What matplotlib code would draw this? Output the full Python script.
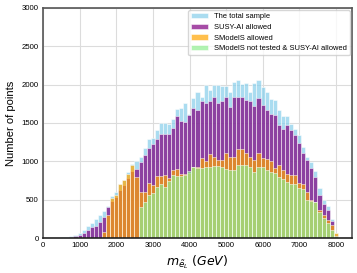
import numpy as np
import matplotlib
matplotlib.use("Agg")
import matplotlib.pyplot as plt

# counts per mass bin (bins of ~111 GeV starting at 500 GeV)
total_sample = [8, 15, 25, 40, 70, 110, 160, 200, 245, 300, 350, 420, 550, 600, 700, 760, 860, 960,
                1000, 1060, 1170, 1290, 1310, 1410, 1500, 1500, 1490, 1550, 1680, 1690, 1760, 1620,
                1830, 1900, 1840, 1995, 1930, 1995, 1990, 1980, 1980, 1910, 2030, 2060, 2010, 2020,
                1910, 2020, 2060, 1970, 1900, 1810, 1800, 1670, 1590, 1590, 1490, 1420, 1340, 1190,
                1060, 990, 880, 650, 500, 420, 250, 70]
susy_ai_allowed = [3, 6, 12, 25, 45, 65, 105, 150, 160, 215, 270, 400, 480, 540, 620, 690, 780, 870,
                   900, 990, 1082, 1169, 1226, 1291, 1356, 1356, 1356, 1430, 1595, 1530, 1508, 1604,
                   1691, 1669, 1791, 1765, 1791, 1834, 1756, 1791, 1834, 1704, 1834, 1834, 1834, 1800,
                   1786, 1726, 1821, 1734, 1669, 1613, 1604, 1474, 1417, 1474, 1408, 1343, 1235, 1104,
                   1017, 909, 800, 560, 440, 370, 220, 40]
smodels_allowed = [0, 0, 0, 0, 0, 0, 0, 0, 0, 0, 83, 300, 525, 560, 700, 760, 830, 950,
                   800, 600, 595, 713, 691, 809, 809, 822, 778, 887, 895, 830, 835, 843,
                   922, 922, 1039, 1008, 1091, 1052, 1017, 1017, 1113, 1052, 1052, 1156, 1156, 1104,
                   1061, 1017, 1104, 1039, 1026, 1008, 917, 952, 887, 835, 822, 822, 713, 704,
                   600, 496, 474, 370, 300, 240, 170, 60]
not_tested_susy_ai = [0, 0, 0, 0, 0, 0, 0, 0, 0, 0, 0, 0, 0, 0, 0, 0, 0, 0,
                      0, 400, 474, 561, 591, 661, 700, 669, 748, 822, 809, 809, 822, 870,
                      922, 908, 908, 922, 930, 939, 939, 930, 895, 887, 887, 950, 952, 952,
                      930, 865, 930, 930, 887, 865, 843, 800, 769, 735, 704, 704, 648, 635,
                      496, 487, 474, 340, 260, 190, 110, 30]

labels = ["The total sample", "SUSY-AI allowed", "SModelS allowed",
          "SModelS not tested & SUSY-AI allowed"]
x_ticks = [0, 1000, 2000, 3000, 4000, 5000, 6000, 7000, 8000]
y_ticks = [0, 500, 1000, 1500, 2000, 2500, 3000]

bin_start = 500.0
bin_width = 111.0
n = len(total_sample)
left_edges = bin_start + bin_width * np.arange(n)

plt.rcParams['font.family'] = ['Liberation Sans', 'DejaVu Sans']

fig = plt.figure(figsize=(3.57, 2.73), dpi=100)
ax = fig.add_axes([0.1204, 0.128, 0.865, 0.843])

series = [total_sample, susy_ai_allowed, smodels_allowed, not_tested_susy_ai]
colors = ['skyblue', 'purple', 'orange', 'lightgreen']
for vals, col, lab in zip(series, colors, labels):
    ax.bar(left_edges, vals, width=bin_width, align='edge', color=col, alpha=0.7,
           edgecolor='white', linewidth=0.5, label=lab)

ax.set_xlim(0, 8430)
ax.set_ylim(0, 3000)
ax.set_xticks(x_ticks)
ax.set_yticks(y_ticks)
ax.tick_params(axis='both', length=0, labelsize=5.6, pad=3)
ax.set_axisbelow(True)
ax.grid(True, color='#dcdcdc', linewidth=0.8)
for s in ax.spines.values():
    s.set_color('#555555')
    s.set_linewidth(1.2)
ax.spines['bottom'].set_color('#222222')

ax.set_ylabel("Number of points", fontsize=8, labelpad=4)
ax.set_xlabel(r"$m_{\tilde{e}_L}\ (GeV)$", fontsize=9, labelpad=3)

leg = ax.legend(loc='upper right', fontsize=5.4, frameon=True, borderaxespad=0.3,
                handlelength=2.2, labelspacing=0.45)
leg.get_frame().set_edgecolor('#cccccc')

fig.savefig("out.png", dpi=100)
